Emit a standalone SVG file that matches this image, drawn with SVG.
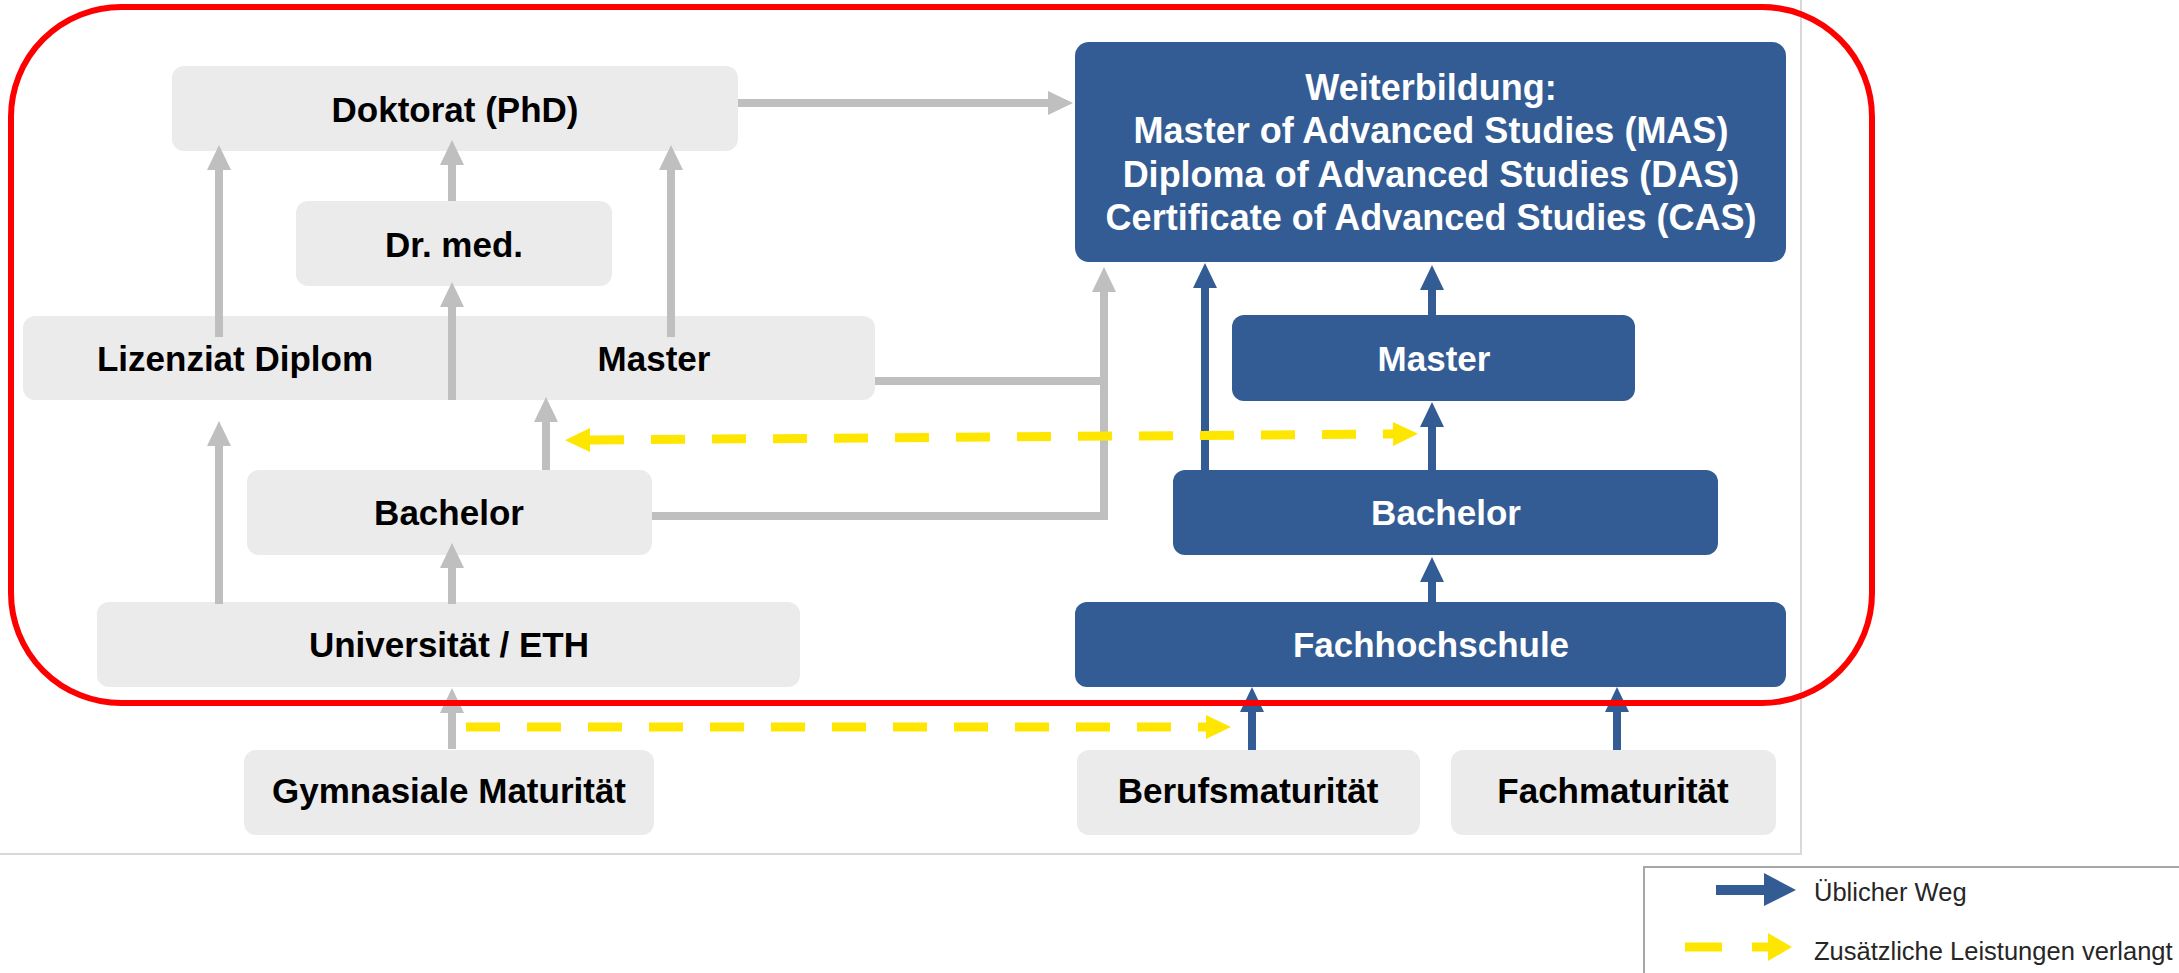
<svg xmlns="http://www.w3.org/2000/svg" width="2179" height="973" viewBox="0 0 2179 973">
<style>
.gbox{fill:#ebebeb}
.bbox{fill:#345c94}
.gt{font-family:"Liberation Sans",Arial,sans-serif;font-weight:bold;font-size:35px;fill:#000;text-anchor:middle}
.bt{font-family:"Liberation Sans",Arial,sans-serif;font-weight:bold;font-size:35px;fill:#fff;text-anchor:middle}
.wt{font-size:36px}
.lt{font-family:"Liberation Sans",Arial,sans-serif;font-size:25.5px;fill:#262626}
.gc{fill:none;stroke:#bfbfbf;stroke-width:8;marker-end:url(#gh)}
.gl{fill:none;stroke:#bfbfbf;stroke-width:8}
.bc{fill:none;stroke:#345c94;stroke-width:8;marker-end:url(#bh)}
.yc{fill:none;stroke:#ffe600;stroke-width:9;stroke-dasharray:34 27}
</style>
<defs>
<marker id="gh" viewBox="0 -12 25 24" refX="0" refY="0" markerWidth="25" markerHeight="24" markerUnits="userSpaceOnUse" orient="auto" overflow="visible"><path d="M0,-12 L25,0 L0,12 z" fill="#bfbfbf"/></marker>
<marker id="bh" viewBox="0 -12 25 24" refX="0" refY="0" markerWidth="25" markerHeight="24" markerUnits="userSpaceOnUse" orient="auto" overflow="visible"><path d="M0,-12 L25,0 L0,12 z" fill="#345c94"/></marker>
<marker id="yh" viewBox="0 -12 25 24" refX="0" refY="0" markerWidth="25" markerHeight="24" markerUnits="userSpaceOnUse" orient="auto-start-reverse" overflow="visible"><path d="M0,-12 L25,0 L0,12 z" fill="#ffe600"/></marker>
</defs>
<rect width="2179" height="973" fill="#fff"/>
<g id="frame">
<path d="M1801 0 V854 H0" fill="none" stroke="#d9d9d9" stroke-width="2"/>
</g>
<g id="doktorat"><rect class="gbox" x="172" y="66" width="566" height="85" rx="12"/><text class="gt" x="455" y="122">Doktorat (PhD)</text></g>
<g id="drmed"><rect class="gbox" x="296" y="201" width="316" height="85" rx="12"/><text class="gt" x="454" y="257">Dr. med.</text></g>
<g id="lizenziat-master"><rect class="gbox" x="23" y="316" width="852" height="84" rx="12"/><text class="gt" x="235" y="371">Lizenziat Diplom</text><text class="gt" x="654" y="371">Master</text></g>
<g id="bachelor-uni"><rect class="gbox" x="247" y="470" width="405" height="85" rx="12"/><text class="gt" x="449" y="525">Bachelor</text></g>
<g id="universitaet"><rect class="gbox" x="97" y="602" width="703" height="85" rx="12"/><text class="gt" x="449" y="657">Universität / ETH</text></g>
<g id="gymnasiale"><rect class="gbox" x="244" y="750" width="410" height="85" rx="12"/><text class="gt" x="449" y="803">Gymnasiale Maturität</text></g>
<g id="weiterbildung"><rect class="bbox" x="1075" y="42" width="711" height="220" rx="14"/>
<text class="bt wt" x="1431" y="100">Weiterbildung:</text>
<text class="bt wt" x="1431" y="143">Master of Advanced Studies (MAS)</text>
<text class="bt wt" x="1431" y="187">Diploma of Advanced Studies (DAS)</text>
<text class="bt wt" x="1431" y="230">Certificate of Advanced Studies (CAS)</text></g>
<g id="master-fh"><rect class="bbox" x="1232" y="315" width="403" height="86" rx="12"/><text class="bt" x="1434" y="371">Master</text></g>
<g id="bachelor-fh"><rect class="bbox" x="1173" y="470" width="545" height="85" rx="12"/><text class="bt" x="1446" y="525">Bachelor</text></g>
<g id="fachhochschule"><rect class="bbox" x="1075" y="602" width="711" height="85" rx="12"/><text class="bt" x="1431" y="657">Fachhochschule</text></g>
<g id="berufsmaturitaet"><rect class="gbox" x="1077" y="750" width="343" height="85" rx="12"/><text class="gt" x="1248" y="803">Berufsmaturität</text></g>
<g id="fachmaturitaet"><rect class="gbox" x="1451" y="750" width="325" height="85" rx="12"/><text class="gt" x="1613" y="803">Fachmaturität</text></g>
<g id="connectors">
<path class="gc" d="M738 103 H1048"/>
<path class="gc" d="M219 337 V170"/>
<path class="gc" d="M452 201 V165"/>
<path class="gc" d="M671 337 V170"/>
<path class="gc" d="M452 400 V307"/>
<path class="gc" d="M219 604 V446"/>
<path class="gc" d="M546 470 V422"/>
<path class="gc" d="M452 604 V568"/>
<path class="gc" d="M452 749 V713"/>
<path class="gl" d="M875 381 H1104"/>
<path class="gc" d="M652 516 H1104 V292"/>
<path class="bc" d="M1205 470 V288"/>
<path class="bc" d="M1432 315 V290"/>
<path class="bc" d="M1432 470 V427"/>
<path class="bc" d="M1432 602 V582"/>
<path class="bc" d="M1252 750 V712"/>
<path class="bc" d="M1617 750 V712"/>
<path class="yc" d="M590 440 L1393 434" marker-start="url(#yh)" marker-end="url(#yh)"/>
<path class="yc" d="M466 727 H1206" marker-end="url(#yh)"/>
</g>
<g id="highlight">
<rect x="11" y="7" width="1861" height="696" rx="110" fill="none" stroke="#ff0000" stroke-width="6"/>
</g>
<g id="legend">
<rect x="1644" y="867" width="600" height="200" fill="#fff" stroke="#a6a6a6" stroke-width="2"/>
<path d="M1716 890 H1764" stroke="#345c94" stroke-width="10"/>
<path d="M1764 873 L1796 890 L1764 906 z" fill="#345c94"/>
<text class="lt" x="1814" y="901">Üblicher Weg</text>
<path d="M1685 947 H1722 M1752 947 H1768" stroke="#ffe600" stroke-width="9"/>
<path d="M1768 933 L1792 947 L1768 961 z" fill="#ffe600"/>
<text class="lt" x="1814" y="960">Zusätzliche Leistungen verlangt</text>
</g>
</svg>
